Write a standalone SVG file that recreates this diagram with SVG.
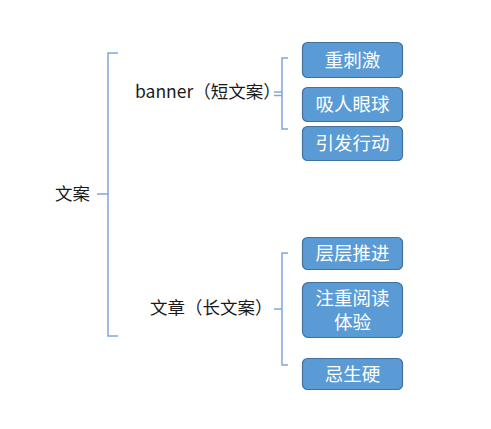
<svg xmlns="http://www.w3.org/2000/svg" width="491" height="429" viewBox="0 0 491 429">
<style>
.lbl{font-family:"Noto Sans CJK SC","Liberation Sans",sans-serif;font-size:17.5px;fill:#1a1a1a}
.box rect{fill:#5B9BD5;stroke:#41719C;stroke-width:1.2}
.box text{font-family:"Noto Sans CJK SC","Liberation Sans",sans-serif;font-size:18.5px;fill:#ffffff;text-anchor:middle}
.con{fill:none;stroke:#7FA8D8;stroke-width:1.5}
</style>
<rect width="491" height="429" fill="#ffffff"/>
<g id="connectors">
<path class="con" d="M97 194H108M118 53H108V336H118"/>
<path class="con" d="M274 92H282M274 95.5H282M288 58H282V129H288"/>
<path class="con" d="M274 309H282M288 253H282V365H288"/>
</g>
<g id="n-wenan"><text class="lbl" x="55" y="200">文案</text></g>
<g id="n-banner"><text class="lbl" x="135" y="98">banner（短文案）</text></g>
<g id="n-wenzhang"><text class="lbl" x="150" y="314">文章（长文案）</text></g>
<g id="b1" class="box"><rect x="302.5" y="42.5" width="100" height="35" rx="5"/><text x="352.5" y="67">重刺激</text></g>
<g id="b2" class="box"><rect x="302.5" y="87.5" width="100" height="34" rx="5"/><text x="352.5" y="111">吸人眼球</text></g>
<g id="b3" class="box"><rect x="302.5" y="126.5" width="100" height="34" rx="5"/><text x="352.5" y="150">引发行动</text></g>
<g id="b4" class="box"><rect x="302.5" y="237.5" width="100" height="32" rx="5"/><text x="352.5" y="260">层层推进</text></g>
<g id="b5" class="box"><rect x="302.5" y="282.5" width="100" height="55" rx="6"/><text x="352.5" y="305">注重阅读</text><text x="352.5" y="329">体验</text></g>
<g id="b6" class="box"><rect x="302.5" y="358.5" width="100" height="31" rx="5"/><text x="352.5" y="381">忌生硬</text></g>
</svg>
